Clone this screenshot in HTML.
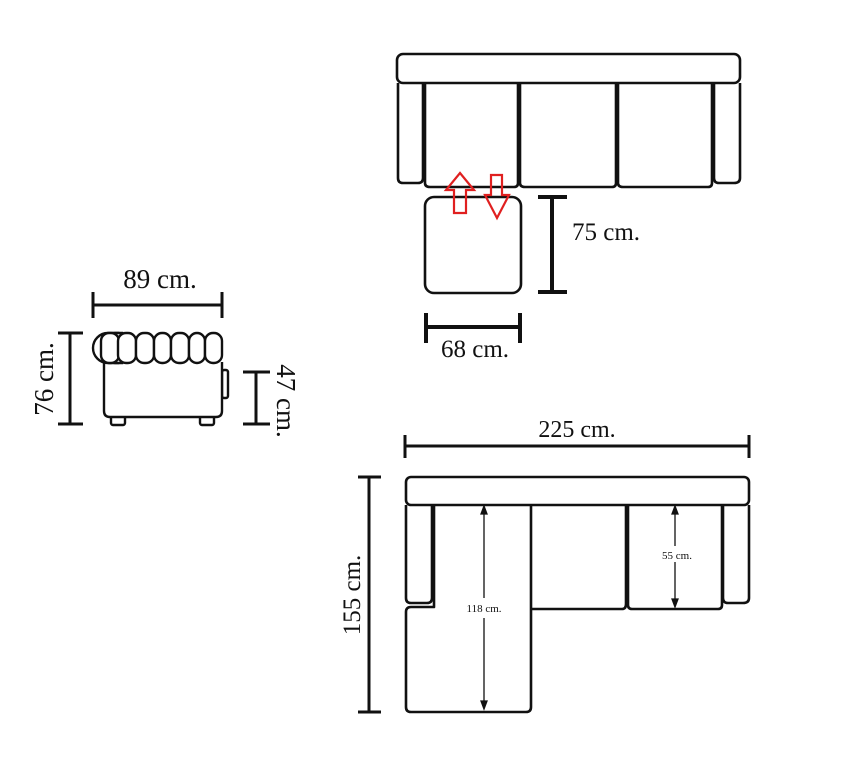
<!DOCTYPE html>
<html><head><meta charset="utf-8"><style>
body{margin:0;background:#fff;}
svg{display:block;}
text{font-family:"Liberation Serif",serif;fill:#111;}
</style></head><body>
<svg width="841" height="768" viewBox="0 0 841 768" xmlns="http://www.w3.org/2000/svg">
<g fill="none" stroke="#111" stroke-width="2.6" stroke-linejoin="round">
<rect x="397" y="54" width="343" height="29" rx="6"/>
<path d="M398 83 V178 Q398 183 403 183 H418 Q423 183 423 178 V83"/>
<path d="M714 83 V178 Q714 183 719 183 H734 Q740 183 740 178 V83"/>
<path d="M425 83 V183 Q425 187 430 187 H514 Q518 187 518 183 V83"/>
<path d="M520 83 V183 Q520 187 525 187 H612 Q616 187 616 183 V83"/>
<path d="M618 83 V183 Q618 187 623 187 H708 Q712 187 712 183 V83"/>
<rect x="425" y="197" width="96" height="96" rx="9"/>
</g>
<g fill="none" stroke="#e02020" stroke-width="2.2" stroke-linejoin="miter">
<path d="M460 173 L474 190 H466 V213 H454 V190 H446 Z"/>
<path d="M491 175 H502 V195 H509 L497 218 L485 195 H491 Z"/>
</g>
<g stroke="#111" stroke-width="4">
<line x1="552" y1="197" x2="552" y2="292"/><line x1="538" y1="197" x2="567" y2="197"/><line x1="538" y1="292" x2="567" y2="292"/>
<line x1="426" y1="327" x2="520" y2="327"/><line x1="426" y1="313" x2="426" y2="343"/><line x1="520" y1="313" x2="520" y2="343"/>
</g>
<text x="572" y="240" font-size="25">75 cm.</text>
<text x="441" y="357" font-size="25">68 cm.</text>

<g stroke="#111" stroke-width="3">
<line x1="93" y1="305" x2="222" y2="305"/><line x1="93" y1="292" x2="93" y2="318"/><line x1="222" y1="292" x2="222" y2="318"/>
<line x1="70" y1="333" x2="70" y2="424"/><line x1="58" y1="333" x2="83" y2="333"/><line x1="58" y1="424" x2="83" y2="424"/>
<line x1="256" y1="372" x2="256" y2="424"/><line x1="243" y1="372" x2="270" y2="372"/><line x1="243" y1="424" x2="270" y2="424"/>
</g>
<text x="160" y="288" font-size="27" text-anchor="middle">89 cm.</text>
<text transform="translate(53,379) rotate(-90)" font-size="27" text-anchor="middle">76 cm.</text>
<text transform="translate(277,401) rotate(90)" font-size="27" text-anchor="middle">47 cm.</text>
<g fill="#fff" stroke="#111" stroke-width="2.4">
<rect x="222" y="370" width="6" height="28" rx="2"/>
<rect x="111" y="414" width="14" height="11" rx="2"/>
<rect x="200" y="414" width="14" height="11" rx="2"/>
<path d="M104 362 V411 Q104 417 110 417 H216 Q222 417 222 411 V362"/>
<path d="M108 333 A15 15 0 0 0 108 363 H118 V333 Z"/>
<path d="M115 333 A13 15 0 0 0 115 363 H122 V333 Z"/>
<rect x="101" y="333" width="18" height="30" rx="8"/>
<rect x="118" y="333" width="18" height="30" rx="8"/>
<rect x="136" y="333" width="18" height="30" rx="8"/>
<rect x="154" y="333" width="17" height="30" rx="8"/>
<rect x="171" y="333" width="18" height="30" rx="8"/>
<rect x="189" y="333" width="16" height="30" rx="8"/>
<rect x="205" y="333" width="17" height="30" rx="8"/>
</g>

<g stroke="#111" stroke-width="3">
<line x1="405" y1="446" x2="749" y2="446"/><line x1="405" y1="435" x2="405" y2="458"/><line x1="749" y1="435" x2="749" y2="458"/>
<line x1="369" y1="477" x2="369" y2="712"/><line x1="358" y1="477" x2="381" y2="477"/><line x1="358" y1="712" x2="381" y2="712"/>
</g>
<text x="577" y="437" font-size="24" text-anchor="middle">225 cm.</text>
<text transform="translate(360,595) rotate(-90)" font-size="25" text-anchor="middle">155 cm.</text>
<g fill="none" stroke="#111" stroke-width="2.6" stroke-linejoin="round">
<rect x="406" y="477" width="343" height="28" rx="5"/>
<path d="M406 505 V598 Q406 603 411 603 H427 Q432 603 432 598 V505"/>
<path d="M723 505 V598 Q723 603 728 603 H743 Q749 603 749 598 V505"/>
<path d="M434 505 V607 H411 Q406 607 406 612 V707 Q406 712 411 712 H526 Q531 712 531 707 V505"/>
<path d="M531 609 H622 Q626 609 626 604 V505"/>
<path d="M628 505 V605 Q628 609 632 609 H718 Q722 609 722 605 V505"/>
</g>
<g stroke="#111" stroke-width="1.3" fill="#111">
<line x1="484" y1="512" x2="484" y2="598"/><line x1="484" y1="618" x2="484" y2="703"/>
<path d="M484 506 L481 514 H487 Z"/><path d="M484 709 L481 701 H487 Z"/>
<line x1="675" y1="512" x2="675" y2="546"/><line x1="675" y1="562" x2="675" y2="601"/>
<path d="M675 506 L672 514 H678 Z"/><path d="M675 607 L672 599 H678 Z"/>
</g>
<text x="484" y="612" font-size="11" text-anchor="middle">118 cm.</text>
<text x="677" y="559" font-size="11" text-anchor="middle">55 cm.</text>
</svg>
</body></html>
